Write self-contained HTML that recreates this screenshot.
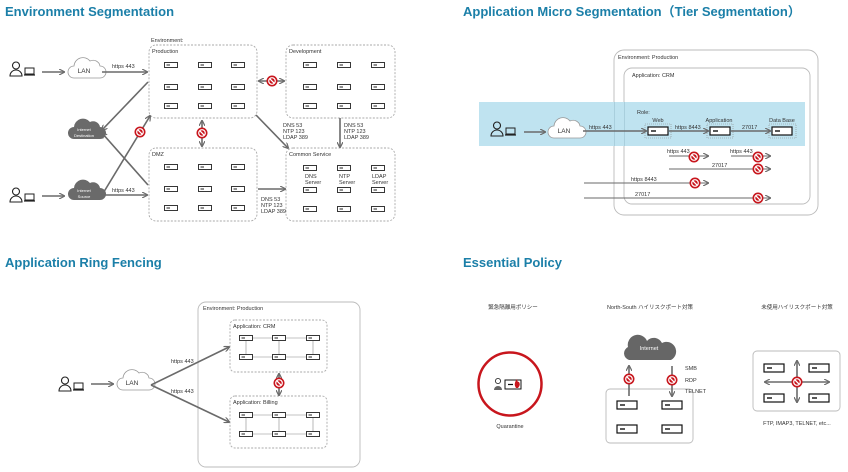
<!DOCTYPE html>
<html><head><meta charset="utf-8"><style>
html,body{margin:0;padding:0;background:#fff;}
svg{display:block;font-family:"Liberation Sans","Noto Sans CJK JP",sans-serif;}
.t{font-weight:bold;fill:#1b7fa8;font-size:13px;}
.s{font-size:5.5px;fill:#333;}
.m{font-size:6.5px;fill:#333;}
.ln{stroke:#6a6a6a;stroke-width:1.6;fill:none;}
.th{stroke:#6a6a6a;stroke-width:1;fill:none;}
.db{fill:none;stroke:#aaa;stroke-width:0.9;stroke-dasharray:2,1.5;}
.sb{fill:none;stroke:#bbb;stroke-width:0.9;}
</style></head><body>
<svg width="848" height="472" viewBox="0 0 848 472" xmlns="http://www.w3.org/2000/svg">
<defs>
<marker id="a" markerWidth="6" markerHeight="6" refX="5" refY="3" orient="auto" markerUnits="userSpaceOnUse"><path d="M0,0 L6,3 L0,6" fill="none" stroke="#6a6a6a" stroke-width="1.2"/></marker>
<marker id="as" markerWidth="6" markerHeight="6" refX="1" refY="3" orient="auto" markerUnits="userSpaceOnUse"><path d="M6,0 L0,3 L6,6" fill="none" stroke="#6a6a6a" stroke-width="1.2"/></marker>
<g id="sv"><rect x="-6.5" y="-2.5" width="13" height="5" fill="#fff" stroke="#222" stroke-width="0.9"/><line x1="-4.5" y1="0" x2="-1" y2="0" stroke="#222" stroke-width="1"/></g>
<g id="sv2"><rect x="-10" y="-4" width="20" height="8" fill="#fff" stroke="#111" stroke-width="1.2"/><line x1="-7" y1="0" x2="-2" y2="0" stroke="#111" stroke-width="1.4"/></g>
<g id="no"><circle r="5.5" fill="#c8161d"/><circle r="3.3" fill="none" stroke="#fff" stroke-width="1.2"/><line x1="-2.4" y1="-2.4" x2="2.4" y2="2.4" stroke="#fff" stroke-width="1.3"/></g>
<g id="user"><circle cx="6" cy="3.5" r="3.5" fill="none" stroke="#222" stroke-width="1.1"/><path d="M0,14 a6,6 0 0 1 12,0 z" fill="none" stroke="#222" stroke-width="1.1"/><rect x="15" y="6" width="9" height="6" fill="none" stroke="#222" stroke-width="1"/><line x1="14" y1="13" x2="25" y2="13" stroke="#222" stroke-width="1.2"/></g>
<path id="cl" d="M7,22 a6,6 0 0 1 0-12 a9,9 0 0 1 16-5 a7,7 0 0 1 10,5 a6,6 0 0 1 0,12 z"/>
</defs>

<!-- Q1 -->
<text x="5" y="16" class="t">Environment Segmentation</text>
<rect x="149" y="45" width="108" height="73" rx="7" class="db"/>
<rect x="286" y="45" width="109" height="73" rx="7" class="db"/>
<rect x="149" y="148" width="108" height="73" rx="7" class="db"/>
<rect x="286" y="148" width="109" height="73" rx="7" class="db"/>
<text x="151" y="42" class="s">Environment:</text>
<text x="152" y="53" class="s">Production</text>
<text x="289" y="53" class="s">Development</text>
<text x="152" y="156" class="s">DMZ</text>
<text x="289" y="156" class="s">Common Service</text>
<g>
<use href="#sv" x="171" y="65"/><use href="#sv" x="205" y="65"/><use href="#sv" x="238" y="65"/>
<use href="#sv" x="171" y="87"/><use href="#sv" x="205" y="87"/><use href="#sv" x="238" y="87"/>
<use href="#sv" x="171" y="106"/><use href="#sv" x="205" y="106"/><use href="#sv" x="238" y="106"/>
<use href="#sv" x="310" y="65"/><use href="#sv" x="344" y="65"/><use href="#sv" x="378" y="65"/>
<use href="#sv" x="310" y="87"/><use href="#sv" x="344" y="87"/><use href="#sv" x="378" y="87"/>
<use href="#sv" x="310" y="106"/><use href="#sv" x="344" y="106"/><use href="#sv" x="378" y="106"/>
<use href="#sv" x="171" y="167"/><use href="#sv" x="205" y="167"/><use href="#sv" x="238" y="167"/>
<use href="#sv" x="171" y="189"/><use href="#sv" x="205" y="189"/><use href="#sv" x="238" y="189"/>
<use href="#sv" x="171" y="208"/><use href="#sv" x="205" y="208"/><use href="#sv" x="238" y="208"/>
<use href="#sv" x="310" y="168"/><use href="#sv" x="344" y="168"/><use href="#sv" x="378" y="168"/>
<use href="#sv" x="310" y="190"/><use href="#sv" x="344" y="190"/><use href="#sv" x="378" y="190"/>
<use href="#sv" x="310" y="209"/><use href="#sv" x="344" y="209"/><use href="#sv" x="378" y="209"/>
</g>
<text class="s"><tspan x="305" y="178">DNS</tspan><tspan x="305" y="184">Server</tspan><tspan x="339" y="178">NTP</tspan><tspan x="339" y="184">Server</tspan><tspan x="372" y="178">LDAP</tspan><tspan x="372" y="184">Server</tspan></text>
<use href="#user" x="10" y="62"/>
<use href="#user" x="10" y="188"/>
<use href="#cl" x="67" y="56" fill="#fff" stroke="#999" stroke-width="0.8"/>
<text x="84" y="73" class="m" text-anchor="middle" fill="#333">LAN</text>
<use href="#cl" x="67" y="117" fill="#6a6a6a"/>
<text x="84" y="131" font-size="4" fill="#fff" text-anchor="middle">Internet</text><text x="84" y="137" font-size="4" fill="#fff" text-anchor="middle">Destination</text>
<use href="#cl" x="67" y="178" fill="#6a6a6a"/>
<text x="84" y="192" font-size="4" fill="#fff" text-anchor="middle">Internet</text><text x="84" y="198" font-size="4" fill="#fff" text-anchor="middle">Source</text>
<line x1="42" y1="72" x2="64" y2="72" class="ln" marker-end="url(#a)"/>
<line x1="42" y1="196" x2="64" y2="196" class="ln" marker-end="url(#a)"/>
<line x1="102" y1="72" x2="147" y2="72" class="ln" marker-end="url(#a)"/>
<text x="112" y="68" class="s">https 443</text>
<line x1="102" y1="195" x2="147" y2="195" class="ln" marker-end="url(#a)"/>
<text x="112" y="192" class="s">https 443</text>
<line x1="148" y1="82" x2="102" y2="130" class="ln" marker-end="url(#a)"/>
<line x1="148" y1="185" x2="102" y2="133" class="ln" marker-end="url(#a)"/>
<line x1="102" y1="195" x2="150" y2="116" class="ln" marker-end="url(#a)"/>
<use href="#no" x="140" y="132"/>
<line x1="202" y1="121" x2="202" y2="146" class="ln" marker-end="url(#a)" marker-start="url(#as)"/>
<use href="#no" x="202" y="133"/>
<line x1="259" y1="81" x2="284" y2="81" class="ln" marker-end="url(#a)" marker-start="url(#as)"/>
<use href="#no" x="272" y="81"/>
<line x1="256" y1="115" x2="288" y2="148" class="ln" marker-end="url(#a)"/>
<text class="s"><tspan x="283" y="127">DNS 53</tspan><tspan x="283" y="133">NTP 123</tspan><tspan x="283" y="139">LDAP 389</tspan></text>
<line x1="340" y1="118" x2="340" y2="147" class="ln" marker-end="url(#a)"/>
<text class="s"><tspan x="344" y="127">DNS 53</tspan><tspan x="344" y="133">NTP 123</tspan><tspan x="344" y="139">LDAP 389</tspan></text>
<line x1="258" y1="189" x2="285" y2="189" class="ln" marker-end="url(#a)"/>
<text class="s"><tspan x="261" y="201">DNS 53</tspan><tspan x="261" y="207">NTP 123</tspan><tspan x="261" y="213">LDAP 389</tspan></text>

<!-- Q2 -->
<text x="463" y="16" class="t">Application Micro Segmentation（Tier Segmentation）</text>
<rect x="614" y="50" width="204" height="165" rx="10" class="sb"/>
<text x="618" y="59" class="s">Environment: Production</text>
<rect x="624" y="68" width="186" height="136" rx="8" class="sb"/>
<text x="632" y="77" class="s">Application: CRM</text>
<rect x="479" y="102" width="326" height="44" fill="#bfe3f0"/>
<rect x="614" y="102" width="1" height="44" fill="#a9cfdd"/><rect x="624" y="102" width="1" height="44" fill="#a9cfdd"/>
<text x="637" y="114" class="s">Role:</text>
<text x="658" y="122" class="s" text-anchor="middle">Web</text>
<text x="719" y="122" class="s" text-anchor="middle">Application</text>
<text x="782" y="122" class="s" text-anchor="middle">Data Base</text>
<rect x="645" y="124" width="26" height="14" fill="none" stroke="#888" stroke-width="0.6" stroke-dasharray="1,1"/>
<rect x="707" y="124" width="26" height="14" fill="none" stroke="#888" stroke-width="0.6" stroke-dasharray="1,1"/>
<rect x="769" y="124" width="27" height="14" fill="none" stroke="#888" stroke-width="0.6" stroke-dasharray="1,1"/>
<use href="#sv2" x="658" y="131"/><use href="#sv2" x="720" y="131"/><use href="#sv2" x="782" y="131"/>
<use href="#user" x="491" y="122"/>
<use href="#cl" x="547" y="116" fill="#fff" stroke="#999" stroke-width="0.8"/>
<text x="564" y="133" class="m" text-anchor="middle">LAN</text>
<line x1="524" y1="132" x2="545" y2="132" class="ln" marker-end="url(#a)"/>
<line x1="583" y1="131" x2="646" y2="131" class="ln" marker-end="url(#a)"/>
<text x="589" y="129" class="s">https 443</text>
<line x1="669" y1="131" x2="708" y2="131" class="ln" marker-end="url(#a)"/>
<text x="675" y="129" class="s">https 8443</text>
<line x1="731" y1="131" x2="770" y2="131" class="ln" marker-end="url(#a)"/>
<text x="742" y="129" class="s">27017</text>
<line x1="669" y1="156" x2="708" y2="156" class="th" marker-end="url(#a)"/><text x="667" y="153" class="s">https 443</text><use href="#no" x="694" y="157"/>
<line x1="731" y1="156" x2="770" y2="156" class="th" marker-end="url(#a)"/><text x="730" y="153" class="s">https 443</text><use href="#no" x="758" y="157"/>
<line x1="669" y1="169" x2="770" y2="169" class="th" marker-end="url(#a)"/><text x="712" y="167" class="s">27017</text><use href="#no" x="758" y="169"/>
<line x1="584" y1="183" x2="708" y2="183" class="th" marker-end="url(#a)"/><text x="631" y="181" class="s">https 8443</text><use href="#no" x="695" y="183"/>
<line x1="584" y1="198" x2="770" y2="198" class="th" marker-end="url(#a)"/><text x="635" y="196" class="s">27017</text><use href="#no" x="758" y="198"/>

<!-- Q3 -->
<text x="5" y="267" class="t">Application Ring Fencing</text>
<rect x="198" y="302" width="162" height="165" rx="8" class="sb"/>
<text x="203" y="310" class="s">Environment: Production</text>
<rect x="230" y="320" width="97" height="52" rx="5" class="db"/>
<text x="233" y="328" class="s">Application: CRM</text>
<rect x="230" y="396" width="97" height="52" rx="5" class="db"/>
<text x="233" y="404" class="s">Application: Billing</text>
<g>
<use href="#sv" x="246" y="338"/><use href="#sv" x="279" y="338"/><use href="#sv" x="313" y="338"/>
<use href="#sv" x="246" y="357"/><use href="#sv" x="279" y="357"/><use href="#sv" x="313" y="357"/>
<use href="#sv" x="246" y="415"/><use href="#sv" x="279" y="415"/><use href="#sv" x="313" y="415"/>
<use href="#sv" x="246" y="434"/><use href="#sv" x="279" y="434"/><use href="#sv" x="313" y="434"/>
</g>
<g stroke="#888" stroke-width="0.6">
<line x1="253" y1="338" x2="272" y2="338"/><line x1="286" y1="338" x2="306" y2="338"/>
<line x1="253" y1="357" x2="272" y2="357"/><line x1="286" y1="357" x2="306" y2="357"/>
<line x1="253" y1="415" x2="272" y2="415"/><line x1="286" y1="415" x2="306" y2="415"/>
<line x1="253" y1="434" x2="272" y2="434"/><line x1="286" y1="434" x2="306" y2="434"/>
<line x1="246" y1="341" x2="246" y2="354"/><line x1="279" y1="341" x2="279" y2="354"/><line x1="313" y1="341" x2="313" y2="354"/>
<line x1="246" y1="418" x2="246" y2="431"/><line x1="279" y1="418" x2="279" y2="431"/><line x1="313" y1="418" x2="313" y2="431"/>
</g>
<use href="#user" x="59" y="377"/>
<use href="#cl" x="116" y="368" fill="#fff" stroke="#999" stroke-width="0.8"/>
<text x="132" y="385" class="m" text-anchor="middle">LAN</text>
<line x1="91" y1="384" x2="113" y2="384" class="ln" marker-end="url(#a)"/>
<line x1="151" y1="385" x2="229" y2="347" class="ln" marker-end="url(#a)"/>
<line x1="151" y1="385" x2="229" y2="422" class="ln" marker-end="url(#a)"/>
<text x="171" y="363" class="s">https 443</text>
<text x="171" y="393" class="s">https 443</text>
<line x1="279" y1="374" x2="279" y2="395" class="ln" marker-end="url(#a)" marker-start="url(#as)"/>
<use href="#no" x="279" y="383"/>

<!-- Q4 -->
<text x="463" y="267" class="t">Essential Policy</text>
<text x="513" y="309" class="s" text-anchor="middle">緊急隔離用ポリシー</text>
<text x="650" y="309" class="s" text-anchor="middle">North-South ハイリスクポート対策</text>
<text x="797" y="309" class="s" text-anchor="middle">未使用ハイリスクポート対策</text>
<circle cx="510" cy="384" r="31.5" fill="none" stroke="#c8161d" stroke-width="2.5"/>
<circle cx="498" cy="381" r="2.6" fill="none" stroke="#333" stroke-width="0.9"/>
<path d="M494,390 a4,4 0 0 1 8,0 z" fill="#666"/>
<rect x="505" y="380" width="16" height="9" fill="#fff" stroke="#111" stroke-width="1"/>
<line x1="508" y1="384.5" x2="513" y2="384.5" stroke="#111" stroke-width="1.2"/>
<path d="M516,388 q-3,-4 1,-9 q0,3 2,3 q2,3 -1,6 z" fill="#c8161d"/>
<text x="510" y="428" class="s" text-anchor="middle">Quarantine</text>
<path d="M629,360 a7,7 0 0 1 -1,-13 a10,10 0 0 1 19,-6 a9,9 0 0 1 15,2 a8,8 0 0 1 9,17 z" fill="#666"/>
<text x="649" y="350" class="s" fill="#fff" text-anchor="middle" style="fill:#fff">Internet</text>
<rect x="606" y="389" width="87" height="54" rx="4" class="sb"/>
<use href="#sv2" x="627" y="405"/><use href="#sv2" x="672" y="405"/>
<use href="#sv2" x="627" y="429"/><use href="#sv2" x="672" y="429"/>
<line x1="629" y1="396" x2="629" y2="366" class="ln" marker-end="url(#a)"/>
<use href="#no" x="629" y="379"/>
<line x1="672" y1="366" x2="672" y2="396" class="ln" marker-end="url(#a)"/>
<use href="#no" x="672" y="380"/>
<text class="s"><tspan x="685" y="370">SMB</tspan><tspan x="685" y="382">RDP</tspan><tspan x="685" y="393">TELNET</tspan></text>
<rect x="753" y="351" width="87" height="60" rx="4" class="sb"/>
<use href="#sv2" x="774" y="368"/><use href="#sv2" x="819" y="368"/>
<use href="#sv2" x="774" y="398"/><use href="#sv2" x="819" y="398"/>
<line x1="797" y1="402" x2="797" y2="361" class="ln" marker-end="url(#a)" marker-start="url(#as)"/>
<line x1="765" y1="382" x2="829" y2="382" class="ln" marker-end="url(#a)" marker-start="url(#as)"/>
<use href="#no" x="797" y="382"/>
<text x="797" y="425" class="s" text-anchor="middle">FTP, IMAP3, TELNET, etc...</text>
</svg>
</body></html>
